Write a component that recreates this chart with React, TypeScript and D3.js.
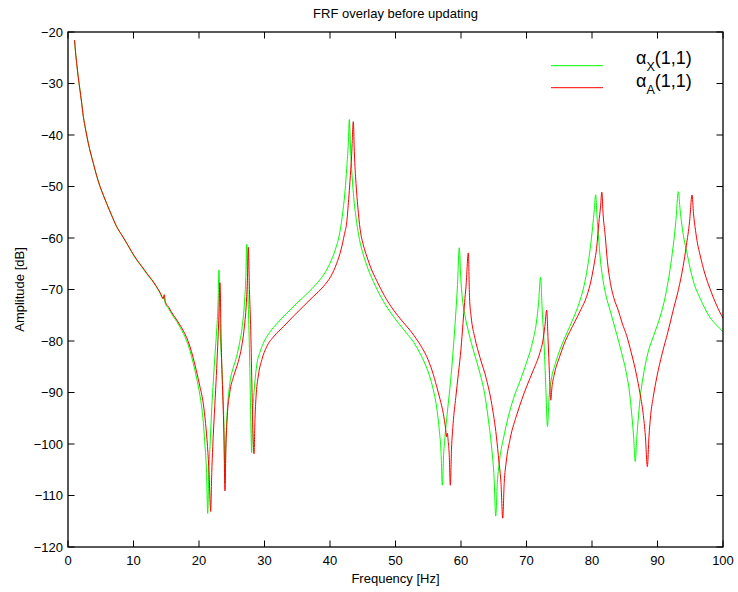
import React from "react";
import * as d3 from "d3";

const TITLE = "FRF overlay before updating";
const X_LABEL = "Frequency [Hz]";
const Y_LABEL = "Amplitude [dB]";
const X_TICKS = [0, 10, 20, 30, 40, 50, 60, 70, 80, 90, 100];
const Y_TICKS = [-120, -110, -100, -90, -80, -70, -60, -50, -40, -30, -20];
const SERIES_NAMES = ["X", "A"];
const SERIES_COLORS = ["#00ff00", "#ff0000"];

// alpha_X(1,1) : [frequency Hz, amplitude dB]
const alphaX: [number, number][] = [
  [1.0, -21.6], [1.15, -23.9], [1.33, -26.1], [1.55, -28.6], [1.83, -31.3], [2.05, -33.4],
  [2.34, -36.4], [2.7, -39.0], [3.1, -41.6], [3.45, -43.5], [3.87, -45.5], [4.35, -47.8],
  [4.89, -50.0], [5.4, -51.7], [5.9, -53.3], [6.6, -55.4], [7.43, -57.8], [8.2, -59.4],
  [8.96, -61.0], [9.7, -62.7], [10.5, -64.3], [11.2, -65.5], [12.0, -66.9], [12.8, -68.2],
  [13.5, -69.5], [14.1, -70.8], [14.5, -71.8], [14.65, -71.2], [14.8, -72.5], [15.4, -73.8],
  [16.1, -75.3], [16.6, -76.2], [17.1, -77.3], [17.6, -78.5], [18.1, -79.9], [18.6, -81.8],
  [19.1, -84.2], [19.6, -87.0], [20.15, -90.6], [20.6, -95.0], [20.9, -100.0], [21.15, -105.5],
  [21.33, -113.5], [21.5, -105.0], [21.68, -100.5], [21.95, -93.0], [22.2, -87.6], [22.45, -82.5],
  [22.7, -77.9], [22.9, -73.0], [23.05, -66.2], [23.25, -78.0], [23.46, -84.3], [23.65, -90.0],
  [23.8, -96.0], [23.97, -107.6], [24.1, -100.0], [24.3, -94.0], [24.7, -88.3], [25.2, -85.3],
  [25.75, -83.0], [26.2, -80.3], [26.6, -77.2], [27.0, -71.4], [27.15, -67.5], [27.28, -61.2],
  [27.45, -70.0], [27.63, -77.9], [27.8, -88.0], [27.95, -98.0], [28.04, -101.7], [28.15, -95.5],
  [28.4, -90.0], [28.6, -87.0], [28.8, -84.8], [29.3, -82.2], [29.8, -80.5], [30.8, -78.3],
  [31.9, -76.6], [33.4, -74.6], [34.9, -72.7], [36.5, -70.8], [38.0, -68.8], [39.1, -67.0],
  [40.0, -64.9], [40.8, -62.3], [41.5, -58.9], [42.0, -54.5], [42.3, -50.8], [42.55, -46.5],
  [42.8, -41.5], [42.95, -37.0], [43.1, -41.5], [43.3, -46.5], [43.66, -52.6], [44.07, -57.0],
  [44.5, -60.3], [45.1, -63.3], [45.8, -66.0], [46.6, -68.4], [47.8, -71.5], [49.2, -74.4],
  [50.5, -76.6], [51.7, -78.5], [52.8, -80.3], [53.7, -82.3], [54.6, -84.7], [55.3, -87.2],
  [55.9, -90.2], [56.3, -93.0], [56.7, -97.5], [56.95, -101.5], [57.15, -108.0], [57.35, -102.0],
  [57.56, -98.5], [57.9, -94.0], [58.3, -89.2], [58.7, -83.5], [59.1, -76.6], [59.45, -69.5],
  [59.74, -61.9], [59.95, -67.5], [60.2, -71.6], [60.6, -75.0], [61.2, -78.5], [62.0, -82.3],
  [62.9, -86.3], [63.6, -90.2], [64.2, -95.5], [64.7, -101.0], [65.05, -106.5], [65.3, -114.0],
  [65.55, -107.5], [65.9, -103.0], [66.5, -98.8], [67.2, -94.8], [68.0, -91.2], [69.0, -87.8],
  [70.0, -84.2], [71.0, -79.8], [71.5, -76.5], [71.85, -72.5], [72.15, -67.6], [72.4, -74.0],
  [72.7, -81.0], [72.95, -89.0], [73.2, -96.6], [73.45, -91.0], [73.8, -87.4], [74.4, -84.4],
  [75.1, -81.7], [75.8, -79.5], [76.6, -77.2], [77.4, -74.8], [78.2, -72.0], [78.8, -69.2],
  [79.3, -65.8], [79.7, -62.3], [80.1, -57.8], [80.35, -54.5], [80.56, -51.6], [80.75, -55.5],
  [80.97, -59.3], [81.3, -64.5], [81.7, -68.3], [82.2, -71.5], [82.75, -74.0], [83.3, -76.5],
  [83.8, -78.8], [84.5, -82.2], [85.3, -86.6], [85.7, -89.7], [86.05, -94.0], [86.35, -98.5],
  [86.6, -103.4], [86.85, -98.5], [87.1, -94.5], [87.4, -90.5], [87.8, -87.0], [88.5, -82.5],
  [89.4, -79.0], [90.4, -75.3], [91.2, -71.3], [91.9, -66.2], [92.4, -61.5], [92.8, -56.8],
  [93.18, -51.0], [93.45, -54.5], [93.7, -57.3], [94.05, -60.2], [94.45, -62.6], [95.0, -66.0],
  [95.5, -68.5], [96.5, -71.7], [97.2, -73.6], [98.0, -75.4], [99.0, -76.9], [100.0, -78.2],
];

// alpha_A(1,1) : [frequency Hz, amplitude dB]
const alphaA: [number, number][] = [
  [1.0, -21.6], [1.15, -23.9], [1.33, -26.1], [1.55, -28.6], [1.83, -31.3], [2.05, -33.4],
  [2.34, -36.4], [2.7, -39.0], [3.1, -41.6], [3.45, -43.5], [3.87, -45.5], [4.35, -47.8],
  [4.89, -50.0], [5.4, -51.7], [5.9, -53.3], [6.6, -55.4], [7.43, -57.8], [8.2, -59.4],
  [8.96, -61.0], [9.7, -62.6], [10.5, -64.2], [11.2, -65.4], [12.0, -66.8], [12.8, -68.1],
  [13.5, -69.4], [14.1, -70.7], [14.55, -71.8], [14.7, -71.0], [14.85, -72.3], [15.4, -73.5],
  [16.1, -75.0], [16.6, -75.9], [17.1, -76.9], [17.6, -78.0], [18.1, -79.3], [18.6, -81.0],
  [19.1, -83.2], [19.6, -85.8], [20.15, -88.9], [20.66, -92.2], [21.0, -96.0], [21.3, -100.5],
  [21.55, -106.0], [21.78, -113.1], [21.95, -105.5], [22.1, -100.5], [22.35, -94.0], [22.6, -88.0],
  [22.8, -82.5], [23.0, -76.5], [23.2, -68.7], [23.4, -81.0], [23.6, -89.5], [23.8, -98.0],
  [23.97, -109.1], [24.1, -101.0], [24.3, -95.0], [24.7, -90.0], [25.3, -86.8], [26.0, -84.0],
  [26.5, -81.2], [26.9, -77.5], [27.28, -71.4], [27.42, -67.0], [27.53, -61.8], [27.7, -70.0],
  [27.9, -78.0], [28.1, -90.0], [28.25, -98.0], [28.4, -101.9], [28.55, -95.0], [28.7, -91.0],
  [29.05, -86.8], [29.6, -83.6], [30.3, -81.2], [31.5, -79.0], [32.9, -77.2], [34.4, -75.2],
  [35.9, -73.3], [37.5, -71.3], [39.0, -69.4], [40.1, -67.5], [41.0, -65.0], [41.7, -62.2],
  [42.2, -59.3], [42.55, -57.0], [42.85, -52.5], [43.05, -49.0], [43.3, -44.0], [43.56, -37.4],
  [43.72, -43.5], [43.97, -49.4], [44.25, -54.0], [44.6, -58.3], [45.1, -61.4], [45.6, -63.5],
  [46.3, -66.0], [47.1, -68.2], [48.3, -71.2], [49.7, -74.0], [51.0, -76.1], [52.2, -77.9],
  [53.5, -80.2], [54.75, -83.0], [55.6, -85.8], [56.3, -88.9], [56.8, -91.3], [57.3, -94.1],
  [57.65, -97.0], [57.8, -98.6], [57.9, -97.9], [58.05, -99.5], [58.2, -102.0], [58.37, -108.0],
  [58.55, -101.0], [58.8, -96.0], [59.2, -91.0], [59.6, -86.3], [60.0, -81.5], [60.3, -76.6],
  [60.55, -72.5], [60.76, -69.5], [61.12, -62.9], [61.3, -71.5], [61.55, -75.3], [62.1, -79.3],
  [62.9, -83.2], [63.9, -87.5], [64.7, -92.3], [65.4, -98.5], [65.8, -103.5], [66.1, -107.5],
  [66.37, -114.4], [66.6, -107.5], [66.9, -103.5], [67.5, -99.0], [68.6, -94.0], [70.0, -88.9],
  [71.0, -85.8], [72.06, -82.2], [72.5, -80.0], [72.8, -77.2], [73.08, -74.0], [73.3, -80.0],
  [73.5, -86.3], [73.7, -91.5], [73.9, -88.8], [74.2, -86.7], [75.1, -82.9], [75.8, -80.4],
  [76.6, -78.2], [77.4, -76.2], [78.3, -73.9], [79.2, -71.3], [79.9, -68.0], [80.4, -64.5],
  [80.7, -62.0], [81.05, -57.0], [81.3, -54.0], [81.5, -51.1], [81.7, -55.5], [82.0, -59.3],
  [82.35, -64.5], [82.75, -68.3], [83.3, -71.5], [84.0, -74.0], [84.6, -76.5], [85.3, -79.0],
  [86.0, -82.3], [86.8, -86.6], [87.3, -90.0], [87.8, -94.0], [88.15, -98.5], [88.45, -104.4],
  [88.7, -98.5], [88.95, -94.5], [89.4, -90.5], [89.9, -87.0], [90.7, -82.5], [91.6, -78.2],
  [92.4, -74.0], [93.2, -70.0], [93.9, -65.6], [94.4, -61.5], [94.9, -56.8], [95.27, -51.65],
  [95.5, -55.3], [95.8, -58.5], [96.1, -61.0], [96.5, -63.3], [97.2, -66.8], [98.0, -69.8],
  [99.0, -73.0], [100.0, -75.6],
];

const W = 738;
const H = 592;
const M = { left: 68, top: 32, right: 723, bottom: 547 };
const FONT = "'Liberation Sans', Arial, Helvetica, sans-serif";

export default function App() {
  const x = d3.scaleLinear().domain([0, 100]).range([M.left, M.right]);
  const y = d3.scaleLinear().domain([-120, -20]).range([M.bottom, M.top]);
  const line = d3
    .line<[number, number]>()
    .x((d) => x(d[0]))
    .y((d) => y(d[1]))
    .curve(d3.curveMonotoneX);
  const tick = 6.5;
  const series = [alphaX, alphaA];

  return (
    <div style={{ position: "fixed", left: 0, top: 0 }}>
      <svg width={W} height={H} style={{ display: "block", background: "#fff" }}>
        <rect x={0} y={0} width={W} height={H} fill="#fff" />
        {series.map((s, i) => (
          <path key={i} d={line(s) || ""} fill="none" stroke={SERIES_COLORS[i]} strokeWidth={1} />
        ))}
        <rect
          x={M.left}
          y={M.top}
          width={M.right - M.left}
          height={M.bottom - M.top}
          fill="none"
          stroke="#000"
          strokeWidth={1.3}
        />
        {X_TICKS.map((t) => (
          <g key={"x" + t}>
            <line x1={x(t)} x2={x(t)} y1={M.bottom} y2={M.bottom - tick} stroke="#000" strokeWidth={1} />
            <line x1={x(t)} x2={x(t)} y1={M.top} y2={M.top + tick} stroke="#000" strokeWidth={1} />
            <text x={x(t)} y={M.bottom + 18} textAnchor="middle" fontFamily={FONT} fontSize={13} fill="#000">
              {t}
            </text>
          </g>
        ))}
        {Y_TICKS.map((t) => (
          <g key={"y" + t}>
            <line x1={M.left} x2={M.left + tick} y1={y(t)} y2={y(t)} stroke="#000" strokeWidth={1} />
            <line x1={M.right} x2={M.right - tick} y1={y(t)} y2={y(t)} stroke="#000" strokeWidth={1} />
            <text x={M.left - 5} y={y(t) + 4.5} textAnchor="end" fontFamily={FONT} fontSize={13} fill="#000">
              {String(t).replace("-", "\u2212")}
            </text>
          </g>
        ))}
        <text x={(M.left + M.right) / 2} y={18} textAnchor="middle" fontFamily={FONT} fontSize={13} fill="#000">
          {TITLE}
        </text>
        <text x={(M.left + M.right) / 2} y={583} textAnchor="middle" fontFamily={FONT} fontSize={13} fill="#000">
          {X_LABEL}
        </text>
        <text
          transform={`translate(24,${(M.top + M.bottom) / 2}) rotate(-90)`}
          textAnchor="middle"
          fontFamily={FONT}
          fontSize={13}
          fill="#000"
        >
          {Y_LABEL}
        </text>
        {SERIES_NAMES.map((n, i) => (
          <g key={"leg" + n}>
            <line x1={551} x2={603} y1={65.7 + i * 22} y2={65.7 + i * 22} stroke={SERIES_COLORS[i]} strokeWidth={1} />
            <text x={636} y={64 + i * 22.5} fontFamily={FONT} fontSize={18} fill="#000">
              {"\u03b1"}
              <tspan fontSize={12.5} dy={7}>
                {n}
              </tspan>
              <tspan dy={-7}>(1,1)</tspan>
            </text>
          </g>
        ))}
      </svg>
    </div>
  );
}
